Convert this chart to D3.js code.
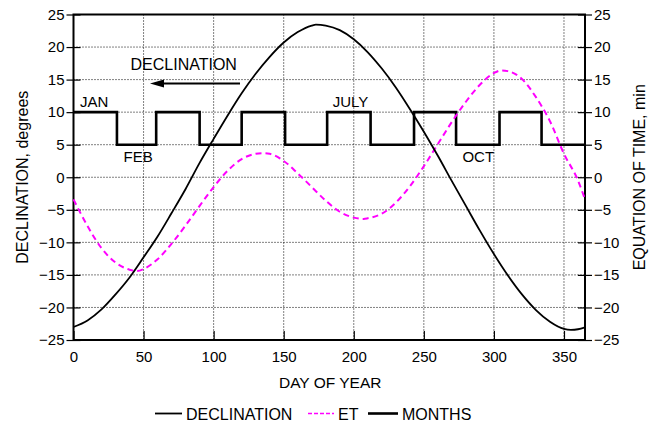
<!DOCTYPE html>
<html>
<head>
<meta charset="utf-8">
<script src="https://cdn.jsdelivr.net/npm/d3@7/dist/d3.min.js"></script>
<style>
  html, body { margin: 0; padding: 0; background: #fff; }
  svg { display: block; font-family: "Liberation Sans", Arial, sans-serif; }
</style>
</head>
<body>
<svg id="chart" width="655" height="425"></svg>
<script>
// Solar declination (degrees) by day of year
const declDays = [0, 10, 20, 30, 40, 50, 60, 70, 80, 90, 100, 110, 120, 130, 140, 150, 160, 170, 173, 180,
  190, 200, 210, 220, 230, 240, 250, 260, 270, 280, 290, 300, 310, 320, 330, 340, 350, 355, 360, 365];
const declValues = [-23.0, -22.0, -20.3, -18.0, -15.4, -12.3, -9.1, -5.5, -1.8, 2.2, 5.9, 9.5, 12.9, 15.9, 18.5, 20.7, 22.3, 23.3, 23.45, 23.3,
  22.6, 21.2, 19.2, 16.7, 13.8, 10.5, 7.0, 3.3, -0.6, -4.4, -8.2, -11.8, -15.1, -18.0, -20.4, -22.2, -23.3, -23.45, -23.35, -23.05];

// Equation of time (minutes) by day of year
const etDays = [0, 10, 20, 30, 40, 45, 50, 60, 70, 80, 90, 100, 110, 120, 130, 135, 140, 150, 160, 170, 180,
  190, 200, 207, 210, 220, 230, 240, 250, 260, 270, 280, 290, 300, 305, 310, 320, 330, 340, 350, 360, 365];
const etValues = [-3.4, -7.5, -10.9, -13.1, -14.2, -14.4, -14.1, -12.6, -10.2, -7.4, -4.4, -1.5, 1.0, 2.8, 3.6, 3.7, 3.6, 2.5, 0.6, -1.5, -3.6,
  -5.3, -6.2, -6.4, -6.3, -5.6, -3.9, -1.4, 1.7, 5.1, 8.5, 11.6, 14.2, 16.0, 16.4, 16.3, 15.1, 12.3, 8.6, 3.6, -0.5, -3.4];

// Month boundaries and the alternating level of the month marker
const monthStarts = [0, 31, 59, 90, 120, 151, 181, 212, 243, 273, 304, 334, 365];
const monthLevels = [10, 5, 10, 5, 10, 5, 10, 5, 10, 5, 10, 5, 5];
const monthLabels = [
  { name: "JAN", day: 4.7, level: 10, pos: "above" },
  { name: "FEB", day: 35.7, level: 5, pos: "below" },
  { name: "JULY", day: 185, level: 10, pos: "above" },
  { name: "OCT", day: 277.5, level: 5, pos: "below" }
];

const xTicks = [0, 50, 100, 150, 200, 250, 300, 350];
const yTicks = [-25, -20, -15, -10, -5, 0, 5, 10, 15, 20, 25];

const margin = { left: 73.5, right: 70, top: 14.5, bottom: 85 };
const W = 655, H = 425;
const svg = d3.select("#chart");

const x = d3.scaleLinear().domain([0, 365]).range([margin.left, W - margin.right]);
const yL = d3.scaleLinear().domain([-25, 25]).range([H - margin.bottom, margin.top]);
const yR = d3.scaleLinear().domain([-25, 25]).range([H - margin.bottom, margin.top]);

const x0 = x.range()[0], x1 = x.range()[1];
const yb = yL.range()[0], yt = yL.range()[1];

// Dotted grid
const grid = svg.append("g").attr("stroke", "#000").attr("stroke-width", 1).attr("stroke-dasharray", "1,2");
grid.selectAll("line.gx").data(xTicks.filter(d => d > 0)).enter().append("line")
  .attr("x1", d => x(d)).attr("x2", d => x(d)).attr("y1", yt).attr("y2", yb);
grid.selectAll("line.gy").data(yTicks.filter(d => d > -25 && d < 25)).enter().append("line")
  .attr("x1", x0).attr("x2", x1).attr("y1", d => yL(d)).attr("y2", d => yL(d));

// Axes
const fmt = d3.format("d");
const axisFont = g => g.selectAll("text").attr("font-size", 15).attr("fill", "#000")
  .attr("font-family", "'Liberation Sans', Arial, sans-serif");

const gx = svg.append("g").attr("transform", `translate(0,${yb})`)
  .call(d3.axisBottom(x).tickValues(xTicks).tickFormat(fmt).tickSize(-9).tickPadding(11));
gx.select(".domain").remove();
gx.selectAll(".tick line").attr("stroke-width", 1.2);
axisFont(gx);

const gl = svg.append("g").attr("transform", `translate(${x0},0)`)
  .call(d3.axisLeft(yL).tickValues(yTicks).tickFormat(fmt).tickSizeInner(7).tickSizeOuter(0).tickPadding(2));
gl.select(".domain").remove();
gl.selectAll(".tick line").attr("x2", 7).attr("x1", -7).attr("stroke-width", 1.2);
axisFont(gl);

const gr = svg.append("g").attr("transform", `translate(${x1},0)`)
  .call(d3.axisRight(yR).tickValues(yTicks).tickFormat(fmt).tickSizeInner(7).tickSizeOuter(0).tickPadding(2));
gr.select(".domain").remove();
gr.selectAll(".tick line").attr("x1", -7).attr("x2", 7).attr("stroke-width", 1.2);
axisFont(gr);

// Frame
svg.append("rect").attr("x", x0).attr("y", yt).attr("width", x1 - x0).attr("height", yb - yt)
  .attr("fill", "none").attr("stroke", "#000").attr("stroke-width", 2);

// Month marker (step line)
const monthData = monthStarts.map((d, i) => ({ d, v: monthLevels[i] }));
svg.append("path").datum(monthData)
  .attr("fill", "none").attr("stroke", "#000").attr("stroke-width", 2.6)
  .attr("d", d3.line().x(p => x(p.d)).y(p => yL(p.v)).curve(d3.curveStepAfter));

// Equation of time
const etData = etDays.map((d, i) => ({ d, v: etValues[i] }));
svg.append("path").datum(etData)
  .attr("fill", "none").attr("stroke", "#ff00ff").attr("stroke-width", 2)
  .attr("stroke-dasharray", "6,4")
  .attr("d", d3.line().x(p => x(p.d)).y(p => yR(p.v)).curve(d3.curveMonotoneX));

// Declination
const declData = declDays.map((d, i) => ({ d, v: declValues[i] }));
svg.append("path").datum(declData)
  .attr("fill", "none").attr("stroke", "#000").attr("stroke-width", 1.8)
  .attr("d", d3.line().x(p => x(p.d)).y(p => yL(p.v)).curve(d3.curveMonotoneX));

// Month labels
svg.selectAll("text.month").data(monthLabels).enter().append("text")
  .attr("x", d => x(d.day))
  .attr("y", d => d.pos === "above" ? yL(d.level) - 5 : yL(d.level) + 17)
  .attr("font-size", 15).text(d => d.name);

// Declination annotation with a left-pointing arrow
const arrowY = 83.5, arrowTip = 150, arrowTail = 240;
svg.append("text").attr("x", 130.5).attr("y", 70).attr("font-size", 16).text("DECLINATION");
svg.append("line").attr("x1", arrowTip + 10).attr("x2", arrowTail).attr("y1", arrowY).attr("y2", arrowY)
  .attr("stroke", "#000").attr("stroke-width", 2);
svg.append("path")
  .attr("d", `M${arrowTip},${arrowY} L${arrowTip + 14},${arrowY - 4} L${arrowTip + 14},${arrowY + 4} Z`)
  .attr("fill", "#000");

// Axis titles
svg.append("text").attr("x", (x0 + x1) / 2 + 1).attr("y", 388).attr("text-anchor", "middle")
  .attr("font-size", 15.5).text("DAY OF YEAR");
svg.append("text").attr("transform", `translate(28,${(yt + yb) / 2}) rotate(-90)`)
  .attr("text-anchor", "middle").attr("font-size", 16).text("DECLINATION, degrees");
svg.append("text").attr("transform", `translate(645,${(yt + yb) / 2}) rotate(-90)`)
  .attr("text-anchor", "middle").attr("font-size", 16).text("EQUATION OF TIME, min");

// Legend
const legendItems = [
  { label: "DECLINATION", x: 155, len: 27, color: "#000", dash: null, width: 1.8 },
  { label: "ET", x: 308, len: 26, color: "#ff00ff", dash: "4,2", width: 1.3 },
  { label: "MONTHS", x: 368, len: 30, color: "#000", dash: null, width: 2.6 }
];
const lg = svg.append("g").selectAll("g").data(legendItems).enter().append("g")
  .attr("transform", d => `translate(${d.x},413.5)`);
lg.append("line").attr("x1", 0).attr("x2", d => d.len).attr("y1", 0).attr("y2", 0)
  .attr("stroke", d => d.color).attr("stroke-width", d => d.width)
  .attr("stroke-dasharray", d => d.dash);
lg.append("text").attr("x", d => d.len + 4).attr("y", 6).attr("font-size", 16).text(d => d.label);
</script>
</body>
</html>
